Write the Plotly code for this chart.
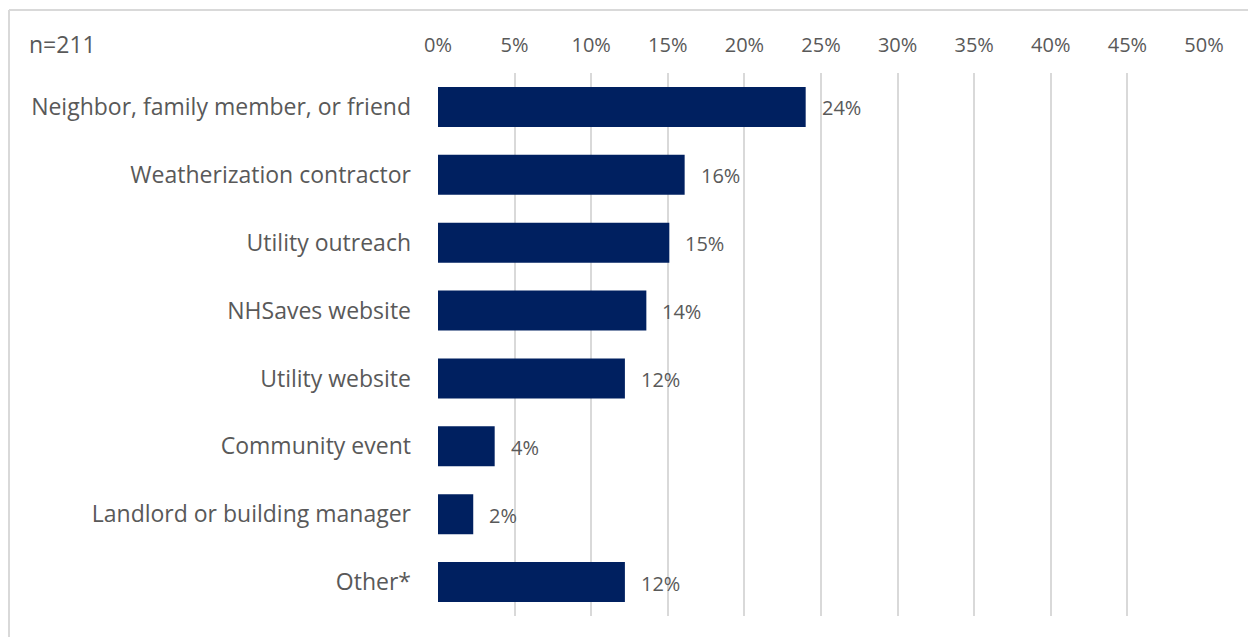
import plotly.graph_objects as go

# Survey: how respondents heard about the program (share of respondents)
categories = [
    "Neighbor, family member, or friend",
    "Weatherization contractor",
    "Utility outreach",
    "NHSaves website",
    "Utility website",
    "Community event",
    "Landlord or building manager",
    "Other*",
]
shares = [24.0, 16.1, 15.1, 13.6, 12.2, 3.7, 2.3, 12.2]
tick_values = [0, 5, 10, 15, 20, 25, 30, 35, 40, 45, 50]
tick_labels = [f"{v}%" for v in tick_values]
sample_note = "n=211"

W, H = 1248, 637
ML, MR, MT, MB = 438, 44, 73, 21
plot_w = W - ML - MR
plot_h = H - MT - MB

FONT = "Open Sans, Calibri, sans-serif"
FS = 20          # axis ticks and value labels
FS_CAT = 23      # category names and sample size note
TEXT_GRAY = "#595959"
GRID = "#d9d9d9"
BAR = "#002060"

fig = go.Figure()
fig.add_trace(
    go.Bar(
        y=categories,
        x=shares,
        orientation="h",
        marker=dict(color=BAR, line=dict(width=0)),
        hoverinfo="skip",
    )
)

# Value labels to the right of each bar
for cat, val in zip(categories, shares):
    fig.add_annotation(
        x=val, y=cat, xref="x", yref="y",
        text=f"{val:.0f}%", showarrow=False,
        xanchor="left", yanchor="middle", xshift=14, yshift=-1,
        font=dict(family=FONT, size=FS, color=TEXT_GRAY),
    )

def px_x(p):
    return (p - ML) / plot_w

def px_y(p):
    return (H - MB - p) / plot_h

fig.add_annotation(
    x=px_x(27), y=px_y(44), xref="paper", yref="paper",
    text=sample_note, showarrow=False, xanchor="left", yanchor="middle",
    font=dict(family=FONT, size=FS_CAT, color=TEXT_GRAY),
)

# Chart frame (top and left edges)
fig.add_shape(type="line", xref="paper", yref="paper",
              x0=px_x(9), x1=px_x(W), y0=px_y(10), y1=px_y(10),
              line=dict(color=GRID, width=2))
fig.add_shape(type="line", xref="paper", yref="paper",
              x0=px_x(9), x1=px_x(9), y0=px_y(10), y1=px_y(H),
              line=dict(color=GRID, width=2))

fig.update_layout(
    width=W, height=H,
    margin=dict(l=ML, r=MR, t=MT, b=MB),
    paper_bgcolor="white", plot_bgcolor="white",
    showlegend=False,
    bargap=0.41,
    font=dict(family=FONT, size=FS, color=TEXT_GRAY),
    xaxis=dict(
        side="top",
        range=[0, 50],
        tickvals=tick_values,
        ticktext=tick_labels,
        showgrid=True, gridcolor=GRID, gridwidth=2,
        zeroline=False, showline=False, ticks="",
        ticklabelstandoff=16,
        tickfont=dict(family=FONT, size=FS, color=TEXT_GRAY),
        fixedrange=True,
    ),
    yaxis=dict(
        categoryorder="array",
        categoryarray=categories,
        autorange="reversed",
        showgrid=False, zeroline=False, showline=False, ticks="",
        ticklabelstandoff=26,
        tickfont=dict(family=FONT, size=FS_CAT, color=TEXT_GRAY),
        fixedrange=True,
    ),
)

fig.write_html("out.html")
